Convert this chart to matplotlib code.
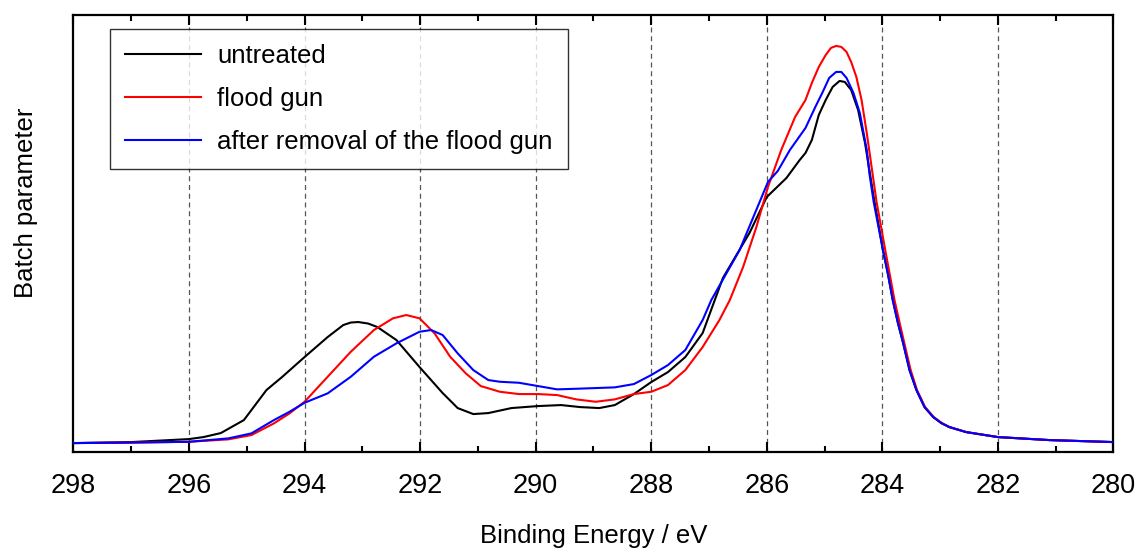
import numpy as np
import matplotlib
matplotlib.use("Agg")
from matplotlib import pyplot as plt
from matplotlib.ticker import MultipleLocator, NullLocator

plt.rcParams['font.family'] = ['Liberation Sans', 'DejaVu Sans']

# C 1s spectra (binding energy in eV, intensity in arbitrary units)
E_untreated = [298.0, 297.0, 296.0, 295.75, 295.45, 295.05, 294.66, 294.39, 294.0, 293.6,
               293.33, 293.2, 293.07, 292.9, 292.74, 292.41, 292.01, 291.61, 291.35, 291.08,
               290.82, 290.42, 289.96, 289.56, 289.23, 288.9, 288.63, 288.3, 288.0, 287.71,
               287.41, 287.11, 286.76, 286.3, 286.0, 285.66, 285.43, 285.33, 285.22, 285.1,
               284.98, 284.86, 284.74, 284.65, 284.54, 284.42, 284.30, 284.15, 283.99, 283.9,
               283.82, 283.73, 283.64, 283.53, 283.41, 283.27, 283.12, 282.98, 282.84, 282.55,
               282.0, 281.11, 280.0]
I_untreated = [9, 10, 13, 15, 19, 32, 62, 75, 95, 115,
               127, 129.5, 130, 128.5, 125, 112, 85, 59, 44, 38,
               39, 44, 46, 47, 45, 44, 47, 58, 70, 80,
               95, 119, 174, 219, 255, 274, 292, 299, 312, 337,
               352, 365, 371, 370, 362, 342, 309, 255, 202, 177,
               152, 129, 109, 82, 62, 45, 35, 29, 25, 20,
               15, 12, 10]

E_flood = [298.0, 297.0, 296.0, 295.32, 294.92, 294.53, 294.26, 294.0, 293.6, 293.2,
           292.8, 292.47, 292.24, 292.01, 291.75, 291.48, 291.21, 290.95, 290.62, 290.29,
           289.96, 289.63, 289.3, 288.96, 288.63, 288.3, 288.0, 287.71, 287.41, 287.11,
           286.82, 286.64, 286.41, 286.18, 285.98, 285.75, 285.51, 285.33, 285.22, 285.1,
           284.98, 284.89, 284.8, 284.71, 284.62, 284.54, 284.45, 284.36, 284.27, 284.1,
           283.95, 283.87, 283.79, 283.7, 283.62, 283.51, 283.4, 283.26, 283.11, 282.97,
           282.84, 282.55, 282.0, 281.11, 280.0]
I_flood = [9, 9.5, 10.3, 12.7, 17, 28.7, 38.7, 50.3, 75.3, 100.3,
           122, 133.7, 137, 133.7, 118.7, 95.3, 78.7, 66, 60.3, 58,
           58, 57, 52.7, 50.3, 52.7, 58, 60.3, 67, 82, 105,
           132, 152, 185, 225, 265, 302, 335, 352, 369, 385,
           397, 404, 406, 405, 400, 390, 375, 352, 319, 250,
           202, 177, 152, 129, 109, 82, 62, 45, 35, 29,
           25, 20, 15, 12, 10]

E_removed = [298.0, 297.0, 296.0, 295.32, 294.92, 294.53, 294.26, 294.0, 293.6, 293.2,
             292.8, 292.41, 292.01, 291.81, 291.61, 291.35, 291.08, 290.82, 290.62, 290.29,
             289.96, 289.63, 289.3, 288.96, 288.63, 288.3, 288.0, 287.71, 287.41, 287.11,
             286.96, 286.47, 285.98, 285.81, 285.6, 285.33, 285.16, 285.04, 284.92, 284.8,
             284.71, 284.62, 284.5, 284.39, 284.27, 284.22, 284.15, 283.99, 283.9, 283.82,
             283.73, 283.64, 283.53, 283.41, 283.27, 283.12, 282.98, 282.84, 282.55, 282.0,
             281.11, 280.0]
I_removed = [9, 9.5, 10.3, 13.7, 18.7, 32, 40.3, 49.3, 58.7, 75.3,
             95.3, 108.7, 120.3, 122, 117, 98.7, 82, 72, 70.3, 69.3,
             66, 62.7, 63.3, 64, 64.7, 68, 77, 87, 102, 132,
             152, 202, 270, 281, 302, 324, 345, 359, 374, 380,
             380, 374, 359, 339, 302, 277, 250, 202, 177, 152,
             129, 109, 82, 62, 45, 35, 29, 25, 20, 15,
             12, 10]

series = [
    ("untreated", E_untreated, I_untreated, "black"),
    ("flood gun", E_flood, I_flood, "#ff0000"),
    ("after removal of the flood gun", E_removed, I_removed, "#0000ff"),
]

fig = plt.figure(figsize=(11.37, 5.52), dpi=100)
ax = fig.add_axes([0.0646, 0.181, 0.9147, 0.792])

for label, e, inten, color in series:
    ax.plot(e, inten, color=color, lw=1.5, label=label, zorder=3,
            solid_joinstyle="round")

ax.set_xlim(298, 280)
ax.set_ylim(0, 437)

# dashed verticals at the major ticks
for e in np.arange(296, 281, -2):
    ax.axvline(e, color="#555555", lw=0.9, ls=(0, (4, 3)), zorder=1)

ax.xaxis.set_major_locator(MultipleLocator(2))
ax.xaxis.set_minor_locator(MultipleLocator(1))
ax.yaxis.set_major_locator(NullLocator())
ax.tick_params(axis="x", which="both", direction="in", top=True, bottom=True,
               labelsize=19.5, pad=15, width=1.5)
ax.tick_params(axis="x", which="major", length=7)
ax.tick_params(axis="x", which="minor", length=4)
for sp in ax.spines.values():
    sp.set_linewidth(1.6)

ax.set_xlabel("Binding Energy / eV", fontsize=18.5, labelpad=18)
ax.set_ylabel("Batch parameter", fontsize=18.5)
ax.yaxis.set_label_coords(-0.034, 0.57)

leg = ax.legend(loc="upper left", bbox_to_anchor=(0.035, 0.968), borderaxespad=0,
                fontsize=18.5, frameon=True, fancybox=False, edgecolor="black",
                handlelength=2.95, handletextpad=0.62, labelspacing=0.73, borderpad=0.6)
leg.get_frame().set_linewidth(1.0)

fig.savefig("out.png", dpi=100)
